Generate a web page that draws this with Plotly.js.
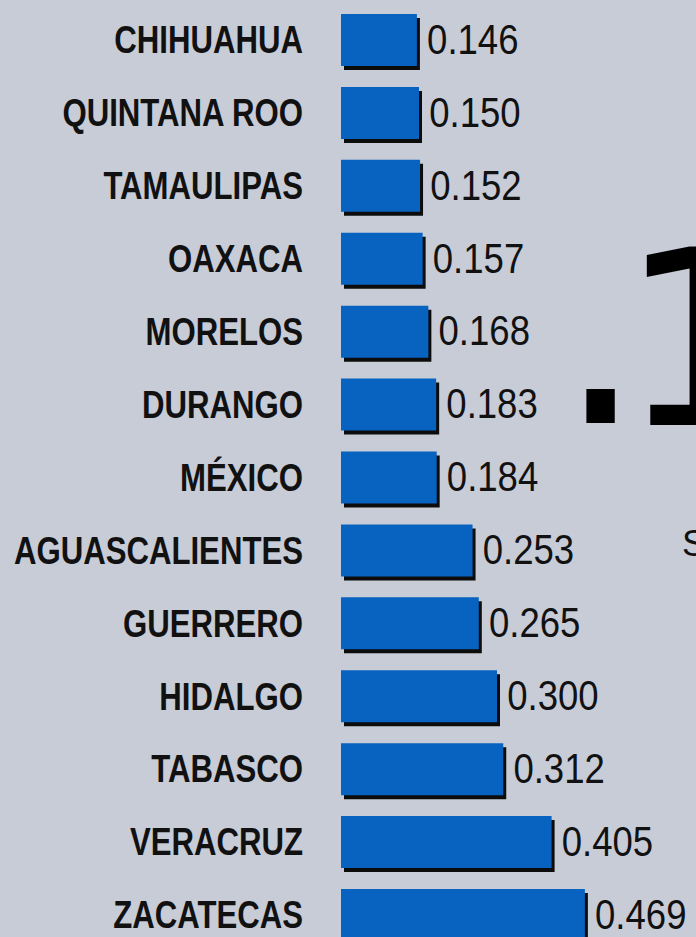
<!DOCTYPE html>
<html>
<head>
<meta charset="utf-8">
<script src="https://cdn.plot.ly/plotly-3.0.1.min.js"></script>
<style>
  html, body { margin: 0; padding: 0; background: #c7ccd7; }
  #chart { width: 696px; height: 937px; }
</style>
</head>
<body>
<div id="chart"></div>
<script>
const states = ["CHIHUAHUA", "QUINTANA ROO", "TAMAULIPAS", "OAXACA", "MORELOS", "DURANGO",
  "MÉXICO", "AGUASCALIENTES", "GUERRERO", "HIDALGO", "TABASCO", "VERACRUZ", "ZACATECAS"];
const values = [0.146, 0.150, 0.152, 0.157, 0.168, 0.183, 0.184, 0.253, 0.265, 0.300, 0.312, 0.405, 0.469];
const valueLabels = values.map(v => v.toFixed(3));

const W = 696, H = 937, L = 341;
const pxPerUnit = 520;
const xMax = (W - L) / pxPerUnit;
const step = 72.92;               // px per category
const barW = 52 / step;
const shadowDx = 3 / pxPerUnit;
const shadowDy = 4 / step;

const shadow = {
  type: 'bar', orientation: 'h',
  y: states, x: values,
  base: shadowDx,
  width: barW,
  offset: -barW / 2 + shadowDy,
  marker: { color: '#0c0c0c' },
  hoverinfo: 'skip'
};
const bars = {
  type: 'bar', orientation: 'h',
  y: states, x: values,
  width: barW,
  marker: { color: '#0862bf', line: { width: 0 } },
  hoverinfo: 'skip'
};
const labels = {
  type: 'scatter', mode: 'text',
  y: states, x: values,
  text: valueLabels,
  texttemplate: '\u00a0%{text}',
  textposition: 'middle right',
  cliponaxis: false,
  textfont: { family: 'Liberation Sans', size: 43, color: '#111111' },
  hoverinfo: 'skip'
};

const px = p => (p - L) / (W - L);
const py = p => 1 - p / H;

const layout = {
  width: W, height: H,
  margin: { l: L, r: 0, t: 0, b: 0 },
  paper_bgcolor: '#c7ccd7',
  plot_bgcolor: '#c7ccd7',
  barmode: 'overlay',
  showlegend: false,
  xaxis: { range: [0, xMax], visible: false, fixedrange: true },
  yaxis: {
    type: 'category',
    categoryorder: 'array', categoryarray: states,
    range: [12 + (H - 915) / step, -40 / step],
    showgrid: false, zeroline: false, showline: false, ticks: '',
    ticklabelstandoff: 37,
    tickfont: { family: 'Liberation Sans', size: 38, color: '#111111', weight: 'bold' }
  },
  annotations: [
    { text: '.', xref: 'paper', yref: 'paper', x: px(555), y: py(490), xanchor: 'left', yanchor: 'bottom',
      showarrow: false, font: { family: 'DejaVu Sans', size: 275, color: '#000000' } },
    { text: '1', xref: 'paper', yref: 'paper', x: px(618), y: py(485), xanchor: 'left', yanchor: 'bottom',
      showarrow: false, font: { family: 'DejaVu Sans', size: 244, color: '#000000' } },
    { text: 'S', xref: 'paper', yref: 'paper', x: px(680), y: py(543), xanchor: 'left', yanchor: 'middle',
      showarrow: false, font: { family: 'Liberation Sans', size: 36, color: '#111111' } }
  ]
};

function condense(selector, factor) {
  document.querySelectorAll(selector).forEach(t => {
    const w = t.getComputedTextLength();
    t.setAttribute('textLength', (w * factor).toFixed(1));
    t.setAttribute('lengthAdjust', 'spacingAndGlyphs');
  });
}

Plotly.newPlot('chart', [shadow, bars, labels], layout, { displayModeBar: false, staticPlot: true })
  .then(() => {
    condense('.ytick text', 0.82);
    condense('.textpoint text', 0.85);
    document.querySelectorAll('.textpoint text').forEach(t => {
      const y = parseFloat(t.getAttribute('y') || '0');
      t.setAttribute('y', (y + 3).toFixed(1));
    });
  });
</script>
</body>
</html>
